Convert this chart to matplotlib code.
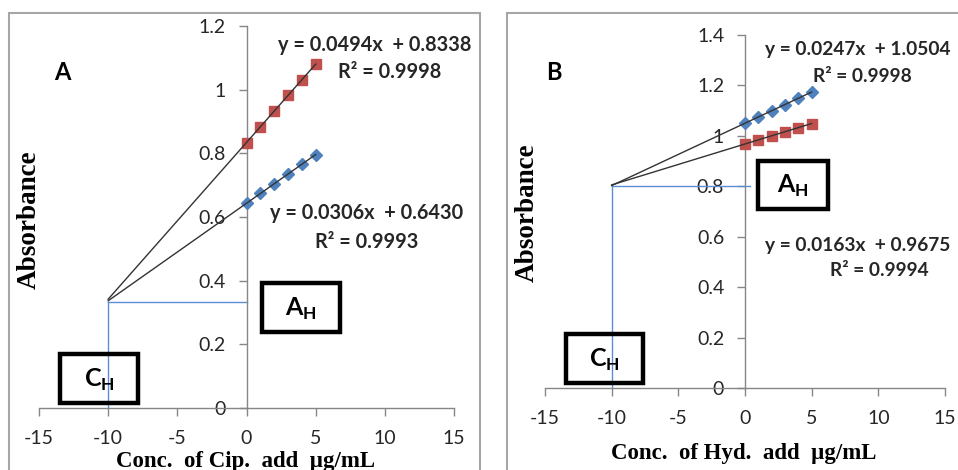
import numpy as np
import matplotlib
matplotlib.use("Agg")
import matplotlib.pyplot as plt
from matplotlib.patches import Rectangle

plt.rcParams['font.family'] = ['Lato', 'DejaVu Sans']
plt.rcParams['mathtext.fontset'] = 'custom'
plt.rcParams['mathtext.bf'] = 'Lato:bold'
plt.rcParams['mathtext.rm'] = 'Lato'

# ---------------- data ----------------
x_added = [0, 1, 2, 3, 4, 5]

# Panel A (Cip.)
a_red = [0.834, 0.883, 0.933, 0.982, 1.031, 1.080]
a_blue = [0.643, 0.674, 0.704, 0.735, 0.766, 0.796]
a_ch = -10
a_ah = 0.334
a_eq_red = ["y = 0.0494x  + 0.8338", "R\u00b2 = 0.9998"]
a_eq_blue = ["y = 0.0306x  + 0.6430", "R\u00b2 = 0.9993"]
a_yticks = [0, 0.2, 0.4, 0.6, 0.8, 1.0, 1.2]
a_yticklabels = ["0", "0.2", "0.4", "0.6", "0.8", "1", "1.2"]

# Panel B (Hyd.)
b_blue = [1.050, 1.075, 1.100, 1.124, 1.149, 1.174]
b_red = [0.968, 0.984, 1.000, 1.016, 1.033, 1.049]
b_ch = -10
b_ah = 0.803
b_eq_blue = ["y = 0.0247x  + 1.0504", "R\u00b2 = 0.9998"]
b_eq_red = ["y = 0.0163x  + 0.9675", "R\u00b2 = 0.9994"]
b_yticks = [0, 0.2, 0.4, 0.6, 0.8, 1.0, 1.2, 1.4]
b_yticklabels = ["0", "0.2", "0.4", "0.6", "0.8", "1", "1.2", "1.4"]

x_ticks = [-15, -10, -5, 0, 5, 10, 15]

RED = '#C0504D'
BLUE = '#4F81BD'
REFBLUE = '#5B8ED6'
AXC = '#868686'
TXT = '#262626'

W, H = 958, 470
fig = plt.figure(figsize=(W / 100, H / 100), dpi=100)


def fx(x):
    return x / W


def fy(y):
    return 1 - y / H


def fig_rect(x0, y0, x1, y1, **kw):
    r = Rectangle((fx(x0), fy(y1)), fx(x1) - fx(x0), fy(y0) - fy(y1),
                  transform=fig.transFigure, fill=False, **kw)
    fig.add_artist(r)


# outer panel frames
fig_rect(9, 13, 480, 480, edgecolor='#A6A6A6', lw=1.5)
fig_rect(507, 13, 970, 480, edgecolor='#A6A6A6', lw=1.5)


def make_axes(rect, ymax, yticks, ylabels):
    ax = fig.add_axes(rect)
    ax.set_xlim(-15, 15)
    ax.set_ylim(0, ymax)
    ax.patch.set_visible(False)
    for s in ['top', 'right']:
        ax.spines[s].set_visible(False)
    ax.spines['left'].set_position(('data', 0))
    ax.spines['bottom'].set_position(('data', 0))
    for s in ['left', 'bottom']:
        ax.spines[s].set_color(AXC)
        ax.spines[s].set_linewidth(1.0)
    ax.set_xticks(x_ticks)
    ax.set_xticklabels([str(t) for t in x_ticks])
    ax.set_yticks(yticks)
    ax.set_yticklabels(ylabels)
    ax.tick_params(axis='both', direction='out', length=6, width=1.0,
                   color=AXC, labelcolor=TXT, labelsize=14)
    ax.tick_params(axis='x', pad=10)
    ax.tick_params(axis='y', pad=9)
    return ax


def draw_series(ax, xs, ys, marker, color, ms, x_from):
    ax.plot(xs, ys, linestyle='none', marker=marker, color=color,
            markersize=ms, zorder=3, clip_on=False)
    k, b = np.polyfit(xs, ys, 1)
    xx = np.array([x_from, max(xs)])
    ax.plot(xx, k * xx + b, color='#333333', lw=1.0, zorder=4, clip_on=False)


# ---------------- Panel A ----------------
axA = make_axes([39 / W, 1 - 408 / H, 415 / W, 382 / H], 1.2,
                a_yticks, a_yticklabels)
axA.plot([a_ch, a_ch], [0, a_ah], color=REFBLUE, lw=1.0, zorder=2)
axA.plot([a_ch, 0], [a_ah, a_ah], color=REFBLUE, lw=1.0, zorder=2)
draw_series(axA, x_added, a_red, 's', RED, 6.5, a_ch)
draw_series(axA, x_added, a_blue, 'D', BLUE, 6.0, a_ch)

# ---------------- Panel B ----------------
axB = make_axes([545 / W, 1 - 388 / H, 400 / W, 353 / H], 1.4,
                b_yticks, b_yticklabels)
axB.plot([b_ch, b_ch], [0, b_ah], color=REFBLUE, lw=1.0, zorder=2)
axB.plot([b_ch, 0.4], [b_ah, b_ah], color=REFBLUE, lw=1.0, zorder=2)
draw_series(axB, x_added, b_red, 's', RED, 6.5, b_ch)
draw_series(axB, x_added, b_blue, 'D', BLUE, 6.0, b_ch)

# ---------------- texts ----------------
eqkw = dict(fontsize=14.3, fontweight='bold', color=TXT, ha='left', va='center')
fig.text(fx(278), fy(45), a_eq_red[0], **eqkw)
fig.text(fx(338), fy(72), a_eq_red[1], **eqkw)
fig.text(fx(270), fy(213), a_eq_blue[0], **eqkw)
fig.text(fx(315), fy(242), a_eq_blue[1], **eqkw)

eqkwB = dict(eqkw, fontsize=13.8)
fig.text(fx(765), fy(50), b_eq_blue[0], **eqkwB)
fig.text(fx(813), fy(77), b_eq_blue[1], **eqkwB)
fig.text(fx(765), fy(245), b_eq_red[0], **eqkwB)
fig.text(fx(830), fy(271), b_eq_red[1], **eqkwB)

fig.text(fx(62), fy(73), "A", fontsize=17, fontweight='bold', color='black',
         ha='center', va='center')
fig.text(fx(554), fy(73), "B", fontsize=17, fontweight='bold', color='black',
         ha='center', va='center')

labkw = dict(fontweight='bold', color='black',
             family=['Liberation Serif', 'DejaVu Serif'],
             ha='center', va='center')
fig.text(fx(245), fy(461), "Conc.  of Cip.  add  \u00b5g/mL", fontsize=16.5, **labkw)
fig.text(fx(744), fy(454), "Conc.  of Hyd.  add  \u00b5g/mL", fontsize=16.5, **labkw)
fig.text(fx(29), fy(220), "Absorbance", rotation=90, fontsize=19.5, **labkw)
fig.text(fx(527), fy(213), "Absorbance", rotation=90, fontsize=19.5, **labkw)

# A_H / C_H boxes
boxes = [
    (262, 283, 340, 332, 'A'),
    (60, 354, 138, 403, 'C'),
    (758, 161, 828, 209, 'A'),
    (566, 334, 643, 383, 'C'),
]
for x0, y0, x1, y1, letter in boxes:
    fig_rect(x0, y0, x1, y1, edgecolor='black', lw=3.2, zorder=5)
    fig.text(fx((x0 + x1) / 2), fy((y0 + y1) / 2 + 1),
             r'$\mathbf{%s}_\mathbf{H}$' % letter, fontsize=18,
             color='black', ha='center', va='center')

fig.savefig('out.png', dpi=100)
